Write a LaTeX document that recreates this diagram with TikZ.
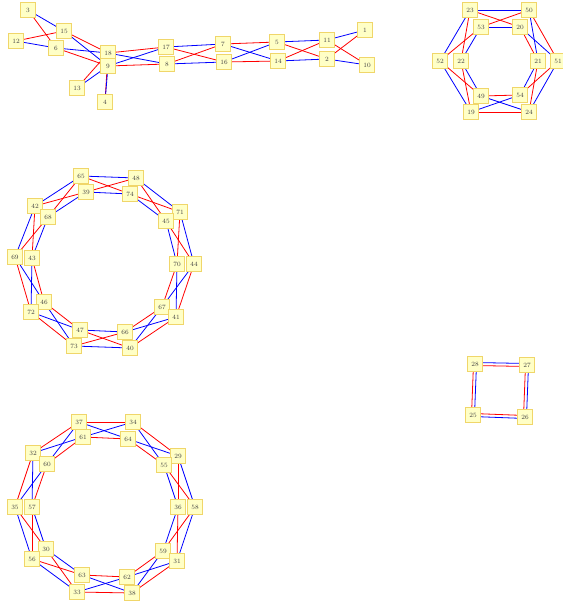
\documentclass[tikz,border=0pt]{standalone}
\begin{document}
\begin{tikzpicture}[x=1pt,y=-1pt,
  nd/.style={draw=ndborder,fill=ndfill,line width=1pt,minimum size=15pt,inner sep=0.5pt,font=\fontsize{6.5}{7}\selectfont,text=black!75},
  rr/.style={draw=red,line width=0.8pt},
  bb/.style={draw=blue,line width=0.8pt}]
\definecolor{ndfill}{HTML}{FFFFC6}
\definecolor{ndborder}{HTML}{F0D66A}
\pgfdeclarelayer{bg}\pgfsetlayers{bg,main}
\useasboundingbox (0,0) rectangle (562,604);
% ---------- top-left chain ----------
\node[nd] (n3) at (28,10) {3};
\node[nd] (n15) at (64,31) {15};
\node[nd] (n12) at (16,41) {12};
\node[nd] (n6) at (56,48) {6};
\node[nd] (n18) at (108,53) {18};
\node[nd] (n9) at (108,66) {9};
\node[nd] (n17) at (166,47) {17};
\node[nd] (n8) at (167,64) {8};
\node[nd] (n13) at (77,88) {13};
\node[nd] (n4) at (105,102) {4};
\node[nd] (n7) at (223,44) {7};
\node[nd] (n16) at (224,62) {16};
\node[nd] (n5) at (277,42) {5};
\node[nd] (n14) at (278,61) {14};
\node[nd] (n11) at (327,40) {11};
\node[nd] (n2) at (327,59) {2};
\node[nd] (n1) at (365,30) {1};
\node[nd] (n10) at (367,65) {10};
% ---------- top-right hexagon ----------
\node[nd] (n23) at (470,10) {23};
\node[nd] (n50) at (529,10) {50};
\node[nd] (n53) at (481,27) {53};
\node[nd] (n20) at (520,27) {20};
\node[nd] (n52) at (440,61) {52};
\node[nd] (n22) at (461,61) {22};
\node[nd] (n21) at (538,61) {21};
\node[nd] (n51) at (558,61) {51};
\node[nd] (n49) at (481,96) {49};
\node[nd] (n54) at (520,95) {54};
\node[nd] (n19) at (471,112) {19};
\node[nd] (n24) at (529,112) {24};
% ---------- middle ring ----------
\node[nd] (n65) at (81,176) {65};
\node[nd] (n48) at (136,178) {48};
\node[nd] (n39) at (86,192) {39};
\node[nd] (n74) at (130,194) {74};
\node[nd] (n42) at (35,206) {42};
\node[nd] (n68) at (48,217) {68};
\node[nd] (n71) at (180,212) {71};
\node[nd] (n45) at (166,221) {45};
\node[nd] (n69) at (15,257) {69};
\node[nd] (n43) at (32,258) {43};
\node[nd] (n70) at (177,264) {70};
\node[nd] (n44) at (194,264) {44};
\node[nd] (n46) at (44,302) {46};
\node[nd] (n72) at (31,312) {72};
\node[nd] (n67) at (162,307) {67};
\node[nd] (n41) at (176,317) {41};
\node[nd] (n47) at (80,330) {47};
\node[nd] (n66) at (125,332) {66};
\node[nd] (n73) at (74,346) {73};
\node[nd] (n40) at (130,348) {40};
% ---------- square ----------
\node[nd] (n28) at (475,364) {28};
\node[nd] (n27) at (527,365) {27};
\node[nd] (n25) at (473,415) {25};
\node[nd] (n26) at (525,417) {26};
% ---------- bottom ring ----------
\node[nd] (n37) at (79,422) {37};
\node[nd] (n34) at (133,422) {34};
\node[nd] (n61) at (83,437) {61};
\node[nd] (n64) at (128,439) {64};
\node[nd] (n32) at (33,453) {32};
\node[nd] (n60) at (47,464) {60};
\node[nd] (n29) at (178,456) {29};
\node[nd] (n55) at (164,465) {55};
\node[nd] (n35) at (15,507) {35};
\node[nd] (n57) at (32,507) {57};
\node[nd] (n36) at (178,507) {36};
\node[nd] (n58) at (195,507) {58};
\node[nd] (n30) at (46,549) {30};
\node[nd] (n56) at (32,559) {56};
\node[nd] (n59) at (163,551) {59};
\node[nd] (n31) at (177,561) {31};
\node[nd] (n63) at (82,575) {63};
\node[nd] (n62) at (127,577) {62};
\node[nd] (n33) at (77,592) {33};
\node[nd] (n38) at (132,593) {38};
% ---------- edges ----------
\begin{pgfonlayer}{bg}
% top-left
\draw[bb] (n3.center) -- (n15.center);
\draw[rr] (n3.center) -- (n6.center);
\draw[rr] (n12.center) -- (n15.center);
\draw[bb] (n12.center) -- (n6.center);
\draw[rr] (n15.center) -- (n18.center);
\draw[bb] (n15.center) -- (n9.center);
\draw[bb] (n6.center) -- (n18.center);
\draw[rr] (n6.center) -- (n9.center);
\draw[rr] (n13.center) -- (n18.center);
\draw[bb] (n13.center) -- (n9.center);
\draw[rr] (n4.center) -- (n18.center);
\draw[bb] (n4.center) -- (n9.center);
\draw[rr] (n18.center) -- (n17.center);
\draw[bb] (n18.center) -- (n8.center);
\draw[bb] (n9.center) -- (n17.center);
\draw[rr] (n9.center) -- (n8.center);
\draw[bb] (n17.center) -- (n7.center);
\draw[rr] (n17.center) -- (n16.center);
\draw[rr] (n8.center) -- (n7.center);
\draw[bb] (n8.center) -- (n16.center);
\draw[rr] (n7.center) -- (n5.center);
\draw[bb] (n7.center) -- (n14.center);
\draw[bb] (n16.center) -- (n5.center);
\draw[rr] (n16.center) -- (n14.center);
\draw[bb] (n5.center) -- (n11.center);
\draw[rr] (n5.center) -- (n2.center);
\draw[rr] (n14.center) -- (n11.center);
\draw[bb] (n14.center) -- (n2.center);
\draw[bb] (n11.center) -- (n1.center);
\draw[rr] (n11.center) -- (n10.center);
\draw[rr] (n2.center) -- (n1.center);
\draw[bb] (n2.center) -- (n10.center);
% hexagon
\draw[bb] (n23.center) -- (n50.center);
\draw[bb] (n53.center) -- (n20.center);
\draw[rr] (n23.center) -- (n20.center);
\draw[rr] (n53.center) -- (n50.center);
\draw[rr] (n50.center) -- (n51.center);
\draw[rr] (n20.center) -- (n21.center);
\draw[bb] (n50.center) -- (n21.center);
\draw[bb] (n20.center) -- (n51.center);
\draw[bb] (n51.center) -- (n24.center);
\draw[rr] (n51.center) -- (n54.center);
\draw[bb] (n21.center) -- (n54.center);
\draw[rr] (n21.center) -- (n24.center);
\draw[rr] (n19.center) -- (n24.center);
\draw[rr] (n49.center) -- (n54.center);
\draw[bb] (n19.center) -- (n54.center);
\draw[bb] (n49.center) -- (n24.center);
\draw[bb] (n52.center) -- (n19.center);
\draw[rr] (n52.center) -- (n49.center);
\draw[bb] (n22.center) -- (n49.center);
\draw[rr] (n22.center) -- (n19.center);
\draw[bb] (n52.center) -- (n23.center);
\draw[rr] (n52.center) -- (n53.center);
\draw[bb] (n22.center) -- (n53.center);
\draw[rr] (n22.center) -- (n23.center);
% middle ring
\draw[bb] (n65.center) -- (n48.center);
\draw[bb] (n39.center) -- (n74.center);
\draw[rr] (n65.center) -- (n74.center);
\draw[rr] (n39.center) -- (n48.center);
\draw[bb] (n48.center) -- (n71.center);
\draw[rr] (n48.center) -- (n45.center);
\draw[rr] (n74.center) -- (n71.center);
\draw[bb] (n74.center) -- (n45.center);
\draw[bb] (n71.center) -- (n44.center);
\draw[rr] (n71.center) -- (n70.center);
\draw[bb] (n45.center) -- (n70.center);
\draw[rr] (n45.center) -- (n44.center);
\draw[rr] (n70.center) -- (n67.center);
\draw[bb] (n70.center) -- (n41.center);
\draw[bb] (n44.center) -- (n67.center);
\draw[rr] (n44.center) -- (n41.center);
\draw[rr] (n67.center) -- (n66.center);
\draw[bb] (n67.center) -- (n40.center);
\draw[bb] (n41.center) -- (n66.center);
\draw[rr] (n41.center) -- (n40.center);
\draw[bb] (n47.center) -- (n66.center);
\draw[bb] (n73.center) -- (n40.center);
\draw[rr] (n47.center) -- (n40.center);
\draw[rr] (n73.center) -- (n66.center);
\draw[bb] (n72.center) -- (n47.center);
\draw[rr] (n72.center) -- (n73.center);
\draw[rr] (n46.center) -- (n47.center);
\draw[bb] (n46.center) -- (n73.center);
\draw[rr] (n69.center) -- (n72.center);
\draw[rr] (n43.center) -- (n46.center);
\draw[bb] (n69.center) -- (n46.center);
\draw[bb] (n43.center) -- (n72.center);
\draw[bb] (n42.center) -- (n69.center);
\draw[rr] (n42.center) -- (n43.center);
\draw[rr] (n68.center) -- (n69.center);
\draw[bb] (n68.center) -- (n43.center);
\draw[bb] (n42.center) -- (n65.center);
\draw[rr] (n42.center) -- (n39.center);
\draw[rr] (n68.center) -- (n65.center);
\draw[bb] (n68.center) -- (n39.center);
% square (double edges)
\draw[bb] ([yshift=1.5pt]n28.center) -- ([yshift=1.5pt]n27.center);
\draw[rr] ([yshift=-1.5pt]n28.center) -- ([yshift=-1.5pt]n27.center);
\draw[rr] ([xshift=-1.5pt]n27.center) -- ([xshift=-1.5pt]n26.center);
\draw[bb] ([xshift=1.5pt]n27.center) -- ([xshift=1.5pt]n26.center);
\draw[rr] ([yshift=1.5pt]n25.center) -- ([yshift=1.5pt]n26.center);
\draw[bb] ([yshift=-1.5pt]n25.center) -- ([yshift=-1.5pt]n26.center);
\draw[rr] ([xshift=-1.5pt]n28.center) -- ([xshift=-1.5pt]n25.center);
\draw[bb] ([xshift=1.5pt]n28.center) -- ([xshift=1.5pt]n25.center);
% bottom ring
\draw[rr] (n37.center) -- (n34.center);
\draw[rr] (n61.center) -- (n64.center);
\draw[bb] (n37.center) -- (n64.center);
\draw[bb] (n61.center) -- (n34.center);
\draw[rr] (n34.center) -- (n29.center);
\draw[bb] (n34.center) -- (n55.center);
\draw[bb] (n64.center) -- (n29.center);
\draw[rr] (n64.center) -- (n55.center);
\draw[rr] (n29.center) -- (n36.center);
\draw[bb] (n29.center) -- (n58.center);
\draw[bb] (n55.center) -- (n36.center);
\draw[rr] (n55.center) -- (n58.center);
\draw[bb] (n36.center) -- (n59.center);
\draw[rr] (n58.center) -- (n59.center);
\draw[bb] (n58.center) -- (n31.center);
\draw[rr] (n36.center) -- (n31.center);
\draw[rr] (n59.center) -- (n62.center);
\draw[bb] (n59.center) -- (n38.center);
\draw[bb] (n31.center) -- (n62.center);
\draw[rr] (n31.center) -- (n38.center);
\draw[rr] (n63.center) -- (n62.center);
\draw[rr] (n33.center) -- (n38.center);
\draw[bb] (n63.center) -- (n38.center);
\draw[bb] (n33.center) -- (n62.center);
\draw[rr] (n56.center) -- (n63.center);
\draw[bb] (n56.center) -- (n33.center);
\draw[bb] (n30.center) -- (n63.center);
\draw[rr] (n30.center) -- (n33.center);
\draw[bb] (n35.center) -- (n56.center);
\draw[rr] (n35.center) -- (n30.center);
\draw[rr] (n57.center) -- (n56.center);
\draw[bb] (n57.center) -- (n30.center);
\draw[rr] (n32.center) -- (n35.center);
\draw[bb] (n32.center) -- (n57.center);
\draw[bb] (n60.center) -- (n35.center);
\draw[rr] (n60.center) -- (n57.center);
\draw[rr] (n32.center) -- (n37.center);
\draw[bb] (n32.center) -- (n61.center);
\draw[bb] (n60.center) -- (n37.center);
\draw[rr] (n60.center) -- (n61.center);
\end{pgfonlayer}
\end{tikzpicture}
\end{document}
